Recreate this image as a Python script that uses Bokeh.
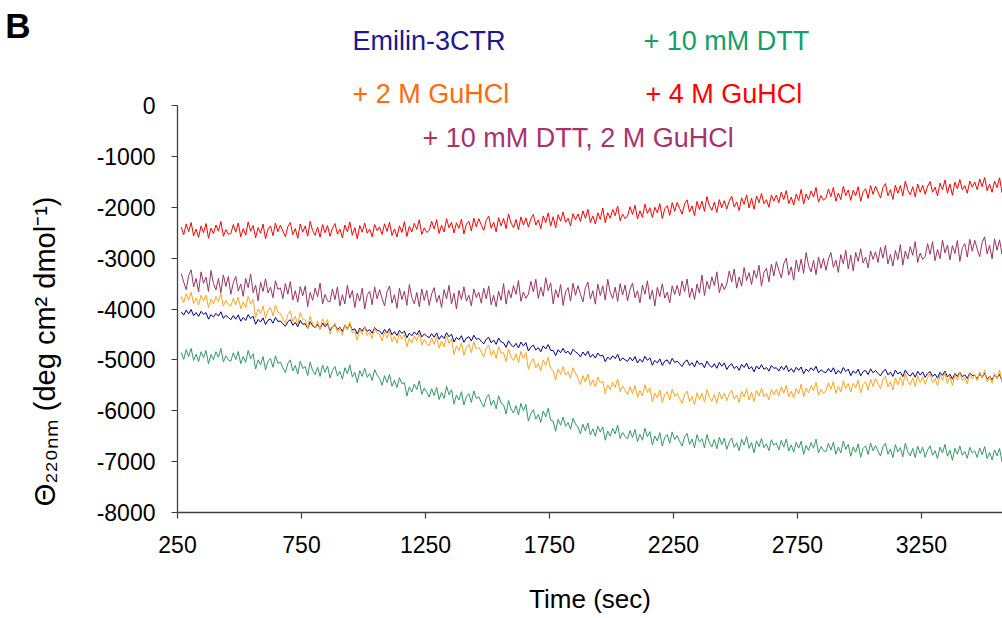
import math
from bokeh.plotting import figure
from bokeh.models import (Range1d, FixedTicker, Label, LinearAxis,
                          PrintfTickFormatter)
from bokeh.embed import file_html
from bokeh.resources import INLINE

# ---------------- data (sampled every 10 s from 265 s) ----------------
time_sec = list(range(265, 3665, 10))

emilin_3ctr = [
    -4055, -4120, -4025, -4095, -4010, -4130, -4070, -4145, -4045, -4105, -4070, -4200, -4110, -4160, -4085, -4140, -4055, -4185, -4125, -4165,
    -4210, -4130, -4200, -4115, -4240, -4165, -4225, -4110, -4190, -4140, -4300, -4205, -4255, -4175, -4305, -4220, -4195, -4280, -4165, -4245,
    -4235, -4290, -4340, -4250, -4210, -4320, -4265, -4350, -4225, -4300, -4290, -4380, -4250, -4330, -4370, -4300, -4390, -4275, -4350, -4285,
    -4425, -4350, -4310, -4405, -4360, -4440, -4325, -4385, -4300, -4415, -4390, -4490, -4375, -4435, -4350, -4440, -4405, -4475, -4365, -4420,
    -4430, -4495, -4400, -4470, -4385, -4505, -4445, -4520, -4420, -4480, -4435, -4565, -4475, -4525, -4450, -4505, -4420, -4550, -4490, -4530,
    -4565, -4485, -4555, -4470, -4595, -4520, -4580, -4465, -4545, -4495, -4650, -4555, -4605, -4525, -4655, -4570, -4545, -4630, -4515, -4595,
    -4580, -4635, -4685, -4595, -4555, -4665, -4610, -4695, -4570, -4645, -4665, -4755, -4625, -4705, -4745, -4675, -4765, -4650, -4725, -4660,
    -4825, -4750, -4710, -4805, -4760, -4840, -4725, -4785, -4700, -4815, -4815, -4915, -4800, -4860, -4775, -4865, -4830, -4900, -4790, -4845,
    -4875, -4940, -4845, -4915, -4830, -4950, -4890, -4965, -4865, -4925, -4905, -5035, -4945, -4995, -4920, -4975, -4890, -5020, -4960, -5000,
    -5030, -4950, -5020, -4935, -5060, -4985, -5045, -4930, -5010, -4960, -5105, -5010, -5060, -4980, -5110, -5025, -5000, -5085, -4970, -5050,
    -5025, -5080, -5130, -5040, -5000, -5110, -5055, -5140, -5015, -5090, -5065, -5155, -5025, -5105, -5145, -5075, -5165, -5050, -5125, -5060,
    -5190, -5115, -5075, -5170, -5125, -5205, -5090, -5150, -5065, -5180, -5135, -5235, -5120, -5180, -5095, -5185, -5150, -5220, -5110, -5165,
    -5155, -5220, -5125, -5195, -5110, -5230, -5170, -5245, -5145, -5205, -5140, -5270, -5180, -5230, -5155, -5210, -5125, -5255, -5195, -5235,
    -5250, -5170, -5240, -5155, -5280, -5205, -5265, -5150, -5230, -5180, -5310, -5215, -5265, -5185, -5315, -5230, -5205, -5290, -5175, -5255,
    -5210, -5265, -5315, -5225, -5185, -5295, -5240, -5325, -5200, -5275, -5240, -5330, -5200, -5280, -5320, -5250, -5340, -5225, -5300, -5235,
    -5345, -5270, -5230, -5325, -5280, -5360, -5245, -5305, -5220, -5335, -5280, -5380, -5265, -5325, -5240, -5330, -5295, -5365, -5255, -5310,
    -5305, -5370, -5275, -5345, -5260, -5380, -5320, -5395, -5295, -5355, -5285, -5415, -5325, -5375, -5300, -5355, -5270, -5400, -5340, -5380,
]

dtt_10mM = [
    -4855, -4990, -4800, -4935, -4775, -5010, -4890, -5035, -4840, -4955, -4815, -5075, -4895, -4995, -4840, -4950, -4775, -5040, -4920, -5000,
    -5025, -4860, -4995, -4835, -5075, -4935, -5050, -4815, -4980, -4880, -5180, -5000, -5100, -4935, -5200, -5025, -4975, -5145, -4920, -5070,
    -5045, -5155, -5250, -5070, -5000, -5215, -5110, -5280, -5025, -5170, -5130, -5310, -5045, -5210, -5290, -5145, -5325, -5100, -5245, -5120,
    -5355, -5210, -5130, -5315, -5225, -5380, -5155, -5270, -5100, -5335, -5245, -5445, -5210, -5325, -5165, -5345, -5270, -5405, -5190, -5300,
    -5365, -5500, -5310, -5445, -5285, -5520, -5400, -5545, -5350, -5465, -5450, -5710, -5530, -5630, -5475, -5585, -5410, -5675, -5555, -5635,
    -5730, -5565, -5700, -5540, -5780, -5640, -5755, -5520, -5685, -5585, -5870, -5690, -5790, -5625, -5890, -5715, -5665, -5835, -5610, -5760,
    -5725, -5835, -5930, -5750, -5680, -5895, -5790, -5960, -5705, -5850, -5885, -6065, -5800, -5965, -6045, -5900, -6080, -5855, -6000, -5875,
    -6205, -6060, -5980, -6165, -6075, -6230, -6005, -6120, -5950, -6185, -6205, -6405, -6170, -6285, -6125, -6305, -6230, -6365, -6150, -6260,
    -6320, -6455, -6265, -6400, -6240, -6475, -6355, -6500, -6305, -6420, -6320, -6580, -6400, -6500, -6345, -6455, -6280, -6545, -6425, -6505,
    -6555, -6390, -6525, -6365, -6605, -6465, -6580, -6345, -6510, -6410, -6675, -6495, -6595, -6430, -6695, -6520, -6470, -6640, -6415, -6565,
    -6490, -6600, -6695, -6515, -6445, -6660, -6555, -6725, -6470, -6615, -6550, -6730, -6465, -6630, -6710, -6565, -6745, -6520, -6665, -6540,
    -6760, -6615, -6535, -6720, -6630, -6785, -6560, -6675, -6505, -6740, -6625, -6825, -6590, -6705, -6545, -6725, -6650, -6785, -6570, -6680,
    -6635, -6770, -6580, -6715, -6555, -6790, -6670, -6815, -6620, -6735, -6600, -6860, -6680, -6780, -6625, -6735, -6560, -6825, -6705, -6785,
    -6805, -6640, -6775, -6615, -6855, -6715, -6830, -6595, -6760, -6660, -6895, -6715, -6815, -6650, -6915, -6740, -6690, -6860, -6635, -6785,
    -6685, -6795, -6890, -6710, -6640, -6855, -6750, -6920, -6665, -6810, -6725, -6905, -6640, -6805, -6885, -6740, -6920, -6695, -6840, -6715,
    -6915, -6770, -6690, -6875, -6785, -6940, -6715, -6830, -6660, -6895, -6775, -6975, -6740, -6855, -6695, -6875, -6800, -6935, -6720, -6830,
    -6785, -6920, -6730, -6865, -6705, -6940, -6820, -6965, -6770, -6885, -6740, -7000, -6820, -6920, -6765, -6875, -6700, -6965, -6845, -6925,
]

guhcl_2M = [
    -3750, -3875, -3700, -3825, -3670, -3895, -3785, -3920, -3730, -3840, -3730, -3975, -3805, -3900, -3755, -3855, -3695, -3940, -3830, -3910,
    -3945, -3790, -3920, -3765, -3995, -3860, -3970, -3750, -3900, -3810, -4170, -4000, -4090, -3940, -4185, -4025, -3970, -4135, -3920, -4065,
    -4085, -4185, -4280, -4110, -4040, -4245, -4145, -4305, -4070, -4205, -4215, -4385, -4140, -4295, -4370, -4235, -4405, -4190, -4325, -4210,
    -4490, -4355, -4280, -4460, -4375, -4520, -4305, -4415, -4255, -4475, -4430, -4615, -4395, -4505, -4350, -4520, -4455, -4580, -4375, -4480,
    -4500, -4625, -4450, -4575, -4420, -4645, -4535, -4670, -4480, -4590, -4500, -4745, -4575, -4670, -4525, -4625, -4465, -4710, -4600, -4680,
    -4720, -4565, -4695, -4540, -4770, -4635, -4745, -4525, -4675, -4585, -4895, -4725, -4815, -4665, -4910, -4750, -4695, -4860, -4645, -4790,
    -4750, -4850, -4945, -4775, -4705, -4910, -4810, -4970, -4735, -4870, -4860, -5030, -4785, -4940, -5015, -4880, -5050, -4835, -4970, -4855,
    -5185, -5050, -4975, -5155, -5070, -5215, -5000, -5110, -4950, -5170, -5210, -5395, -5175, -5285, -5130, -5300, -5235, -5360, -5155, -5260,
    -5360, -5485, -5310, -5435, -5280, -5505, -5395, -5530, -5340, -5450, -5415, -5660, -5490, -5585, -5440, -5540, -5380, -5625, -5515, -5595,
    -5685, -5530, -5660, -5505, -5735, -5600, -5710, -5490, -5640, -5550, -5825, -5655, -5745, -5595, -5840, -5680, -5625, -5790, -5575, -5720,
    -5660, -5760, -5855, -5685, -5615, -5820, -5720, -5880, -5645, -5780, -5660, -5830, -5585, -5740, -5815, -5680, -5850, -5635, -5770, -5655,
    -5805, -5670, -5595, -5775, -5690, -5835, -5620, -5730, -5570, -5790, -5635, -5820, -5600, -5710, -5555, -5725, -5660, -5785, -5580, -5685,
    -5580, -5705, -5530, -5655, -5500, -5725, -5615, -5750, -5560, -5670, -5480, -5725, -5555, -5650, -5505, -5605, -5445, -5690, -5580, -5660,
    -5605, -5450, -5580, -5425, -5655, -5520, -5630, -5410, -5560, -5470, -5630, -5460, -5550, -5400, -5645, -5485, -5430, -5595, -5380, -5525,
    -5370, -5470, -5565, -5395, -5325, -5530, -5430, -5590, -5355, -5490, -5335, -5505, -5260, -5415, -5490, -5355, -5525, -5310, -5445, -5330,
    -5480, -5345, -5270, -5450, -5365, -5510, -5295, -5405, -5245, -5465, -5320, -5505, -5285, -5395, -5240, -5410, -5345, -5470, -5265, -5370,
    -5285, -5410, -5235, -5360, -5205, -5430, -5320, -5455, -5265, -5375, -5200, -5445, -5275, -5370, -5225, -5325, -5165, -5410, -5300, -5380,
]

guhcl_4M = [
    -2390, -2540, -2330, -2480, -2300, -2560, -2430, -2590, -2370, -2500, -2320, -2610, -2410, -2520, -2350, -2470, -2280, -2570, -2440, -2530,
    -2520, -2340, -2490, -2310, -2580, -2420, -2550, -2290, -2470, -2360, -2600, -2400, -2510, -2330, -2620, -2430, -2370, -2560, -2310, -2480,
    -2350, -2470, -2580, -2380, -2300, -2540, -2420, -2610, -2330, -2490, -2370, -2570, -2280, -2460, -2550, -2390, -2590, -2340, -2500, -2360,
    -2570, -2410, -2320, -2530, -2430, -2600, -2350, -2480, -2290, -2550, -2400, -2620, -2360, -2490, -2310, -2510, -2430, -2580, -2340, -2460,
    -2385, -2535, -2325, -2475, -2295, -2555, -2425, -2585, -2365, -2495, -2285, -2575, -2375, -2485, -2315, -2435, -2245, -2535, -2405, -2495,
    -2455, -2275, -2425, -2245, -2515, -2355, -2485, -2225, -2405, -2295, -2505, -2305, -2415, -2235, -2525, -2335, -2275, -2465, -2215, -2385,
    -2225, -2345, -2455, -2255, -2175, -2415, -2295, -2485, -2205, -2365, -2220, -2420, -2130, -2310, -2400, -2240, -2440, -2190, -2350, -2210,
    -2390, -2230, -2140, -2350, -2250, -2420, -2170, -2300, -2110, -2370, -2185, -2405, -2145, -2275, -2095, -2295, -2215, -2365, -2125, -2245,
    -2130, -2280, -2070, -2220, -2040, -2300, -2170, -2330, -2110, -2240, -2015, -2305, -2105, -2215, -2045, -2165, -1975, -2265, -2135, -2225,
    -2170, -1990, -2140, -1960, -2230, -2070, -2200, -1940, -2120, -2010, -2200, -2000, -2110, -1930, -2220, -2030, -1970, -2160, -1910, -2080,
    -1905, -2025, -2135, -1935, -1855, -2095, -1975, -2165, -1885, -2045, -1880, -2080, -1790, -1970, -2060, -1900, -2100, -1850, -2010, -1870,
    -2035, -1875, -1785, -1995, -1895, -2065, -1815, -1945, -1755, -2015, -1820, -2040, -1780, -1910, -1730, -1930, -1850, -2000, -1760, -1880,
    -1760, -1910, -1700, -1850, -1670, -1930, -1800, -1960, -1740, -1870, -1650, -1940, -1740, -1850, -1680, -1800, -1610, -1900, -1770, -1860,
    -1820, -1640, -1790, -1610, -1880, -1720, -1850, -1590, -1770, -1660, -1865, -1665, -1775, -1595, -1885, -1695, -1635, -1825, -1575, -1745,
    -1585, -1705, -1815, -1615, -1535, -1775, -1655, -1845, -1565, -1725, -1575, -1775, -1485, -1665, -1755, -1595, -1795, -1545, -1705, -1565,
    -1745, -1585, -1495, -1705, -1605, -1775, -1525, -1655, -1465, -1725, -1545, -1765, -1505, -1635, -1455, -1655, -1575, -1725, -1485, -1605,
    -1505, -1655, -1445, -1595, -1415, -1675, -1545, -1705, -1485, -1615, -1420, -1710, -1510, -1620, -1450, -1570, -1380, -1670, -1540, -1630,
]

dtt_guhcl_2M = [
    -3300, -3470, -3620, -3340, -3230, -3565, -3400, -3665, -3270, -3495, -3375, -3655, -3245, -3500, -3625, -3400, -3680, -3330, -3555, -3360,
    -3710, -3485, -3360, -3650, -3510, -3750, -3400, -3580, -3315, -3680, -3530, -3840, -3475, -3655, -3405, -3685, -3570, -3780, -3445, -3615,
    -3585, -3795, -3500, -3710, -3460, -3825, -3640, -3865, -3560, -3740, -3550, -3955, -3675, -3830, -3590, -3760, -3490, -3900, -3715, -3840,
    -3860, -3605, -3815, -3565, -3940, -3720, -3900, -3535, -3790, -3635, -3970, -3690, -3845, -3590, -4000, -3730, -3650, -3915, -3565, -3800,
    -3620, -3790, -3940, -3660, -3550, -3885, -3720, -3985, -3590, -3815, -3650, -3930, -3520, -3775, -3900, -3675, -3955, -3605, -3830, -3635,
    -3930, -3705, -3580, -3870, -3730, -3970, -3620, -3800, -3535, -3900, -3690, -4000, -3635, -3815, -3565, -3845, -3730, -3940, -3605, -3775,
    -3675, -3885, -3590, -3800, -3550, -3915, -3730, -3955, -3650, -3830, -3500, -3905, -3625, -3780, -3540, -3710, -3440, -3850, -3665, -3790,
    -3710, -3455, -3665, -3415, -3790, -3570, -3750, -3385, -3640, -3485, -3900, -3620, -3775, -3520, -3930, -3660, -3580, -3845, -3495, -3730,
    -3540, -3710, -3860, -3580, -3470, -3805, -3640, -3905, -3510, -3735, -3545, -3825, -3415, -3670, -3795, -3570, -3850, -3500, -3725, -3530,
    -3840, -3615, -3490, -3780, -3640, -3880, -3530, -3710, -3445, -3810, -3630, -3940, -3575, -3755, -3505, -3785, -3670, -3880, -3545, -3715,
    -3535, -3745, -3450, -3660, -3410, -3775, -3590, -3815, -3510, -3690, -3330, -3735, -3455, -3610, -3370, -3540, -3270, -3680, -3495, -3620,
    -3510, -3255, -3465, -3215, -3590, -3370, -3550, -3185, -3440, -3285, -3520, -3240, -3395, -3140, -3550, -3280, -3200, -3465, -3115, -3350,
    -3070, -3240, -3390, -3110, -3000, -3335, -3170, -3435, -3040, -3265, -3020, -3300, -2890, -3145, -3270, -3045, -3325, -2975, -3200, -3005,
    -3240, -3015, -2890, -3180, -3040, -3280, -2930, -3110, -2845, -3210, -2940, -3250, -2885, -3065, -2815, -3095, -2980, -3190, -2855, -3025,
    -2875, -3085, -2790, -3000, -2750, -3115, -2930, -3155, -2850, -3030, -2735, -3140, -2860, -3015, -2775, -2945, -2675, -3085, -2900, -3025,
    -2970, -2715, -2925, -2675, -3050, -2830, -3010, -2645, -2900, -2745, -3035, -2755, -2910, -2655, -3065, -2795, -2715, -2980, -2630, -2865,
    -2650, -2820, -2970, -2690, -2580, -2915, -2750, -3015, -2620, -2845, -2640, -2920, -2510, -2765, -2890, -2665, -2945, -2595, -2820, -2625,
]

series_names = ["Emilin-3CTR", "+ 10 mM DTT", "+ 2 M GuHCl", "+ 4 M GuHCl",
                "+ 10 mM DTT, 2 M GuHCl"]
series_values = [emilin_3ctr, dtt_10mM, guhcl_2M, guhcl_4M, dtt_guhcl_2M]

x_ticks = [250, 750, 1250, 1750, 2250, 2750, 3250]
y_ticks = [0, -1000, -2000, -3000, -4000, -5000, -6000, -7000, -8000]

x_title = "Time (sec)"
y_title = "\u0398\u2082\u2082\u2080\u2099\u2098  (deg cm\u00b2 dmol\u207b\u00b9)"
panel_letter = "B"

# ---------------- styling ----------------
FONT = "Liberation Sans"
line_colors = ["#000080", "#339966", "#ffa31a", "#ff0000", "#993366"]
text_colors = ["#1a1a8c", "#12a066", "#ff6a0d", "#ff0000", "#a8336b"]
AXIS_COL = "#404040"

Y_TOP = 2064  # frame reaches the top of the canvas so header texts stay inside

p = figure(width=1002, height=618, output_backend="svg", toolbar_location=None,
           x_range=Range1d(250, 3577), y_range=Range1d(-8000, Y_TOP),
           min_border_left=177, min_border_right=0, min_border_top=0,
           min_border_bottom=106)
p.outline_line_color = None
p.xgrid.visible = False
p.ygrid.visible = False
p.background_fill_color = "white"
p.border_fill_color = "white"

xa = p.xaxis[0]
ya = p.yaxis[0]
xa.ticker = FixedTicker(ticks=x_ticks)
ya.ticker = FixedTicker(ticks=y_ticks)
ya.bounds = (-8000, 0)
ya.formatter = PrintfTickFormatter(format="%d")
xa.formatter = PrintfTickFormatter(format="%d")
for ax in (xa, ya):
    ax.axis_line_color = AXIS_COL
    ax.axis_line_width = 1.3
    ax.major_tick_line_color = AXIS_COL
    ax.major_tick_line_width = 1.2
    ax.major_tick_out = 6
    ax.major_tick_in = 0
    ax.minor_tick_line_color = None
    ax.major_label_text_font = FONT
    ax.major_label_text_font_size = "23px"
    ax.major_label_text_color = "black"
ya.major_label_standoff = 16
xa.major_label_standoff = 17
xa.axis_label = x_title
xa.axis_label_text_font = FONT
xa.axis_label_text_font_size = "26px"
xa.axis_label_text_font_style = "normal"
xa.axis_label_text_color = "black"
xa.axis_label_standoff = 28

# y title: a second left axis carrying one rotated label
y_title_pos = -1631
ta = LinearAxis(ticker=FixedTicker(ticks=[y_title_pos]),
                major_label_overrides={y_title_pos: y_title},
                major_label_orientation=math.pi / 2,
                axis_line_color=None, major_tick_line_color=None,
                minor_tick_line_color=None, major_tick_out=0, major_tick_in=0,
                major_label_standoff=48, major_label_text_font=FONT,
                major_label_text_font_size="29px",
                major_label_text_color="black")
p.add_layout(ta, "left")

# panel letter: a third left axis with one label
b_pos = 1582
ba = LinearAxis(ticker=FixedTicker(ticks=[b_pos]),
                major_label_overrides={b_pos: panel_letter},
                axis_line_color=None, major_tick_line_color=None,
                minor_tick_line_color=None, major_tick_out=0, major_tick_in=0,
                major_label_standoff=-20, major_label_text_font=FONT,
                major_label_text_font_size="35px",
                major_label_text_font_style="bold",
                major_label_text_color="black")
p.add_layout(ba, "left")

for ys, c in zip(series_values, line_colors):
    p.line(time_sec[:len(ys)], ys, line_color=c, line_width=1.0)

# series names (coloured texts inside the frame)
name_pos = [(175, 472), (466, 472), (175, 419), (468, 419), (245, 375)]
for name, col, (sx, sy) in zip(series_names, text_colors, name_pos):
    p.add_layout(Label(x=sx, y=sy, x_units="screen", y_units="screen",
                       text=name, text_font=FONT, text_font_size="27px",
                       text_color=col, text_align="left",
                       text_baseline="alphabetic"))

open("out.html", "w").write(file_html(p, INLINE))
